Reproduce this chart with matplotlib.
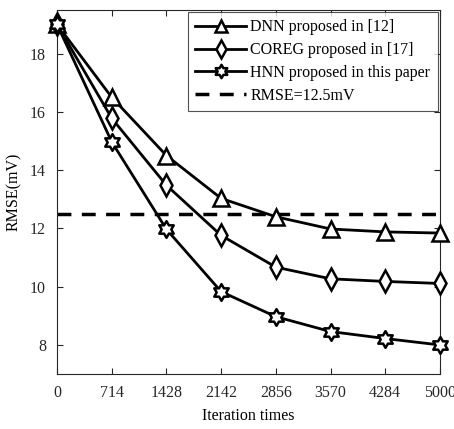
import numpy as np
import matplotlib.pyplot as plt
from matplotlib.path import Path

iterations = ["0", "714", "1428", "2142", "2856", "3570", "4284", "5000"]
dnn = [19.0, 16.5, 14.5, 13.03, 12.4, 11.98, 11.88, 11.84]
coreg = [19.0, 15.78, 13.48, 11.76, 10.67, 10.27, 10.18, 10.11]
hnn = [19.0, 14.97, 11.97, 9.83, 8.97, 8.46, 8.22, 8.0]
rmse_line = 12.5

plt.rcParams["font.family"] = ["Liberation Serif", "DejaVu Serif"]

# hexagram marker (two overlapping triangles)
ang = np.pi / 2 + np.arange(12) * np.pi / 6
rad = np.where(np.arange(12) % 2 == 0, 1.0, 1.0 / np.sqrt(3))
verts = np.column_stack([rad * np.cos(ang), rad * np.sin(ang)])
verts = np.vstack([verts, verts[:1]])
hexagram = Path(verts, closed=True)

fig = plt.figure(figsize=(4.54, 4.29), dpi=100)
ax = fig.add_axes([0.1256, 0.128, 0.8434, 0.849])

x = np.arange(len(iterations))
ax.plot(x, dnn, "-", color="black", lw=2, marker="^", ms=11, mfc="white",
        mew=1.8, clip_on=False, zorder=3, label="DNN proposed in [12]")
ax.plot(x, coreg, "-", color="black", lw=2, marker="d", ms=11, mfc="white",
        mew=1.8, clip_on=False, zorder=3, label="COREG proposed in [17]")
ax.plot(x, hnn, "-", color="black", lw=2, marker=hexagram, ms=12, mfc="white",
        mew=1.8, clip_on=False, zorder=3, label="HNN proposed in this paper")
ax.axhline(rmse_line, color="black", lw=2.5, ls=(0, (4, 3)), label="RMSE=12.5mV")

ax.set_xlim(0, len(iterations) - 1)
ax.set_ylim(7, 19.5)
ax.set_xticks(x)
ax.set_xticklabels(iterations)
ax.set_yticks([8, 10, 12, 14, 16, 18])
ax.tick_params(direction="in", top=True, right=True, labelsize=11.5, colors="#262626",
               length=4, pad=8)
for s in ax.spines.values():
    s.set_color("#262626")
    s.set_linewidth(0.8)

ax.set_xlabel("Iteration times", fontsize=11.5, labelpad=5)
ax.set_ylabel("RMSE(mV)", fontsize=11.5, labelpad=6)

leg = ax.legend(loc="upper right", fontsize=11.5, fancybox=False, edgecolor="#262626",
                handlelength=3.2, borderpad=0.45, labelspacing=0.42, markerscale=0.8,
                borderaxespad=0.15, handletextpad=0.25)
leg.get_frame().set_linewidth(0.8)
leg.set_zorder(5)

fig.savefig("out.png", dpi=100)
plt.close()
